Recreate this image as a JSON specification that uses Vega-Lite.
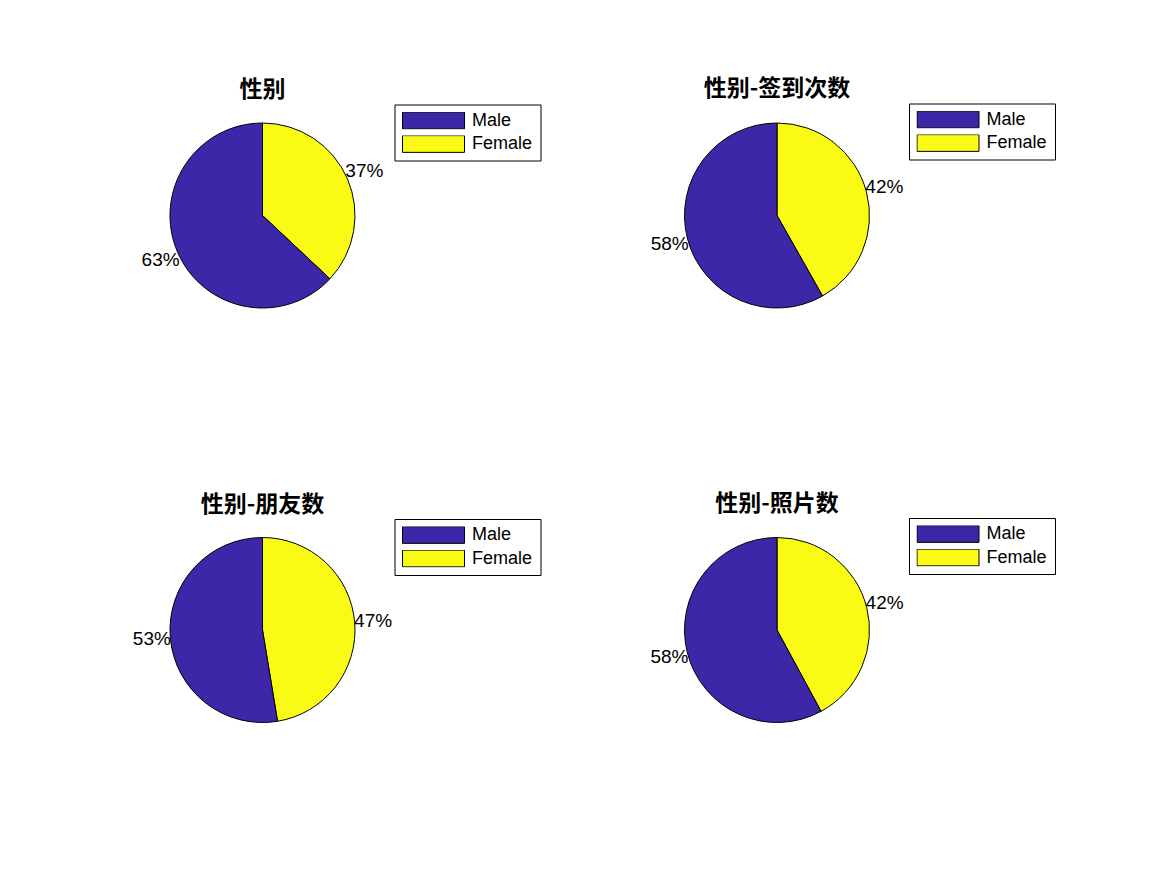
{
  "$schema": "https://vega.github.io/schema/vega-lite/v6.json",
  "autosize": {"type": "none"},
  "padding": {"left": 162.5, "top": 115.5, "right": 1004.5, "bottom": 759.5},
  "background": "white",
  "data": {"values": [
    {"chart": "性别", "sex": "Female", "value": 37, "label": "37%"},
    {"chart": "性别", "sex": "Male", "value": 63, "label": "63%"},
    {"chart": "性别-签到次数", "sex": "Female", "value": 41.8, "label": "42%"},
    {"chart": "性别-签到次数", "sex": "Male", "value": 58.2, "label": "58%"},
    {"chart": "性别-朋友数", "sex": "Female", "value": 47.4, "label": "47%"},
    {"chart": "性别-朋友数", "sex": "Male", "value": 52.6, "label": "53%"},
    {"chart": "性别-照片数", "sex": "Female", "value": 42.1, "label": "42%"},
    {"chart": "性别-照片数", "sex": "Male", "value": 57.9, "label": "58%"}
  ]},
  "columns": 2,
  "spacing": {"row": 214.5, "column": 314.5},
  "bounds": "flush",
  "resolve": {"scale": {"color": "independent", "theta": "independent"}, "legend": {"color": "independent"}},
  "concat": [
    {
      "title": "性别",
      "width": 200, "height": 200,
      "transform": [{"filter": "datum.chart == '性别'"}],
      "layer": [
        {"mark": {"type": "arc", "outerRadius": 92.5, "stroke": "black", "strokeWidth": 1},
         "encoding": {
           "theta": {"field": "value", "type": "quantitative", "stack": true},
           "order": {"field": "sex", "sort": "ascending"},
           "color": {"field": "sex", "type": "nominal", "scale": {"domain": ["Male", "Female"], "range": ["#3E26A8", "#F9FB15"]}, "legend": {"title": null, "orient": "none", "legendX": 232, "legendY": -11}}
         }},
        {"mark": {"type": "text", "radius": 111, "fontSize": 19, "font": "Liberation Sans", "color": "black", "align": "center", "baseline": "middle"},
         "encoding": {
           "theta": {"field": "value", "type": "quantitative", "stack": true},
           "order": {"field": "sex", "sort": "ascending"},
           "text": {"field": "label"}
         }}
      ]
    },
    {
      "title": "性别-签到次数",
      "width": 200, "height": 200,
      "transform": [{"filter": "datum.chart == '性别-签到次数'"}],
      "layer": [
        {"mark": {"type": "arc", "outerRadius": 92.5, "stroke": "black", "strokeWidth": 1},
         "encoding": {
           "theta": {"field": "value", "type": "quantitative", "stack": true},
           "order": {"field": "sex", "sort": "ascending"},
           "color": {"field": "sex", "type": "nominal", "scale": {"domain": ["Male", "Female"], "range": ["#3E26A8", "#F9FB15"]}, "legend": {"title": null, "orient": "none", "legendX": 232, "legendY": -12}}
         }},
        {"mark": {"type": "text", "radius": 111, "fontSize": 19, "font": "Liberation Sans", "color": "black", "align": "center", "baseline": "middle"},
         "encoding": {
           "theta": {"field": "value", "type": "quantitative", "stack": true},
           "order": {"field": "sex", "sort": "ascending"},
           "text": {"field": "label"}
         }}
      ]
    },
    {
      "title": "性别-朋友数",
      "width": 200, "height": 200,
      "transform": [{"filter": "datum.chart == '性别-朋友数'"}],
      "layer": [
        {"mark": {"type": "arc", "outerRadius": 92.5, "stroke": "black", "strokeWidth": 1},
         "encoding": {
           "theta": {"field": "value", "type": "quantitative", "stack": true},
           "order": {"field": "sex", "sort": "ascending"},
           "color": {"field": "sex", "type": "nominal", "scale": {"domain": ["Male", "Female"], "range": ["#3E26A8", "#F9FB15"]}, "legend": {"title": null, "orient": "none", "legendX": 232, "legendY": -11}}
         }},
        {"mark": {"type": "text", "radius": 111, "fontSize": 19, "font": "Liberation Sans", "color": "black", "align": "center", "baseline": "middle"},
         "encoding": {
           "theta": {"field": "value", "type": "quantitative", "stack": true},
           "order": {"field": "sex", "sort": "ascending"},
           "text": {"field": "label"}
         }}
      ]
    },
    {
      "title": "性别-照片数",
      "width": 200, "height": 200,
      "transform": [{"filter": "datum.chart == '性别-照片数'"}],
      "layer": [
        {"mark": {"type": "arc", "outerRadius": 92.5, "stroke": "black", "strokeWidth": 1},
         "encoding": {
           "theta": {"field": "value", "type": "quantitative", "stack": true},
           "order": {"field": "sex", "sort": "ascending"},
           "color": {"field": "sex", "type": "nominal", "scale": {"domain": ["Male", "Female"], "range": ["#3E26A8", "#F9FB15"]}, "legend": {"title": null, "orient": "none", "legendX": 232, "legendY": -12}}
         }},
        {"mark": {"type": "text", "radius": 111, "fontSize": 19, "font": "Liberation Sans", "color": "black", "align": "center", "baseline": "middle"},
         "encoding": {
           "theta": {"field": "value", "type": "quantitative", "stack": true},
           "order": {"field": "sex", "sort": "ascending"},
           "text": {"field": "label"}
         }}
      ]
    }
  ],
  "config": {
    "view": {"stroke": null},
    "title": {"font": "Noto Sans CJK SC", "fontSize": 23, "fontWeight": "bold", "color": "black", "anchor": "middle", "offset": 2},
    "legend": {
      "padding": 7.5,
      "fillColor": "white",
      "strokeColor": "black",
      "strokeWidth": 1,
      "cornerRadius": 0,
      "symbolType": "M-1,-0.27H1V0.27H-1Z",
      "symbolSize": 3844,
      "symbolStrokeColor": "black",
      "symbolStrokeWidth": 1,
      "symbolOpacity": 1,
      "symbolFillColor": "black",
      "clipHeight": 17,
      "labelFont": "Liberation Sans",
      "labelFontSize": 18,
      "labelColor": "black",
      "labelOffset": 7,
      "rowPadding": 4.5,
      "symbolOffset": 0
    }
  }
}
